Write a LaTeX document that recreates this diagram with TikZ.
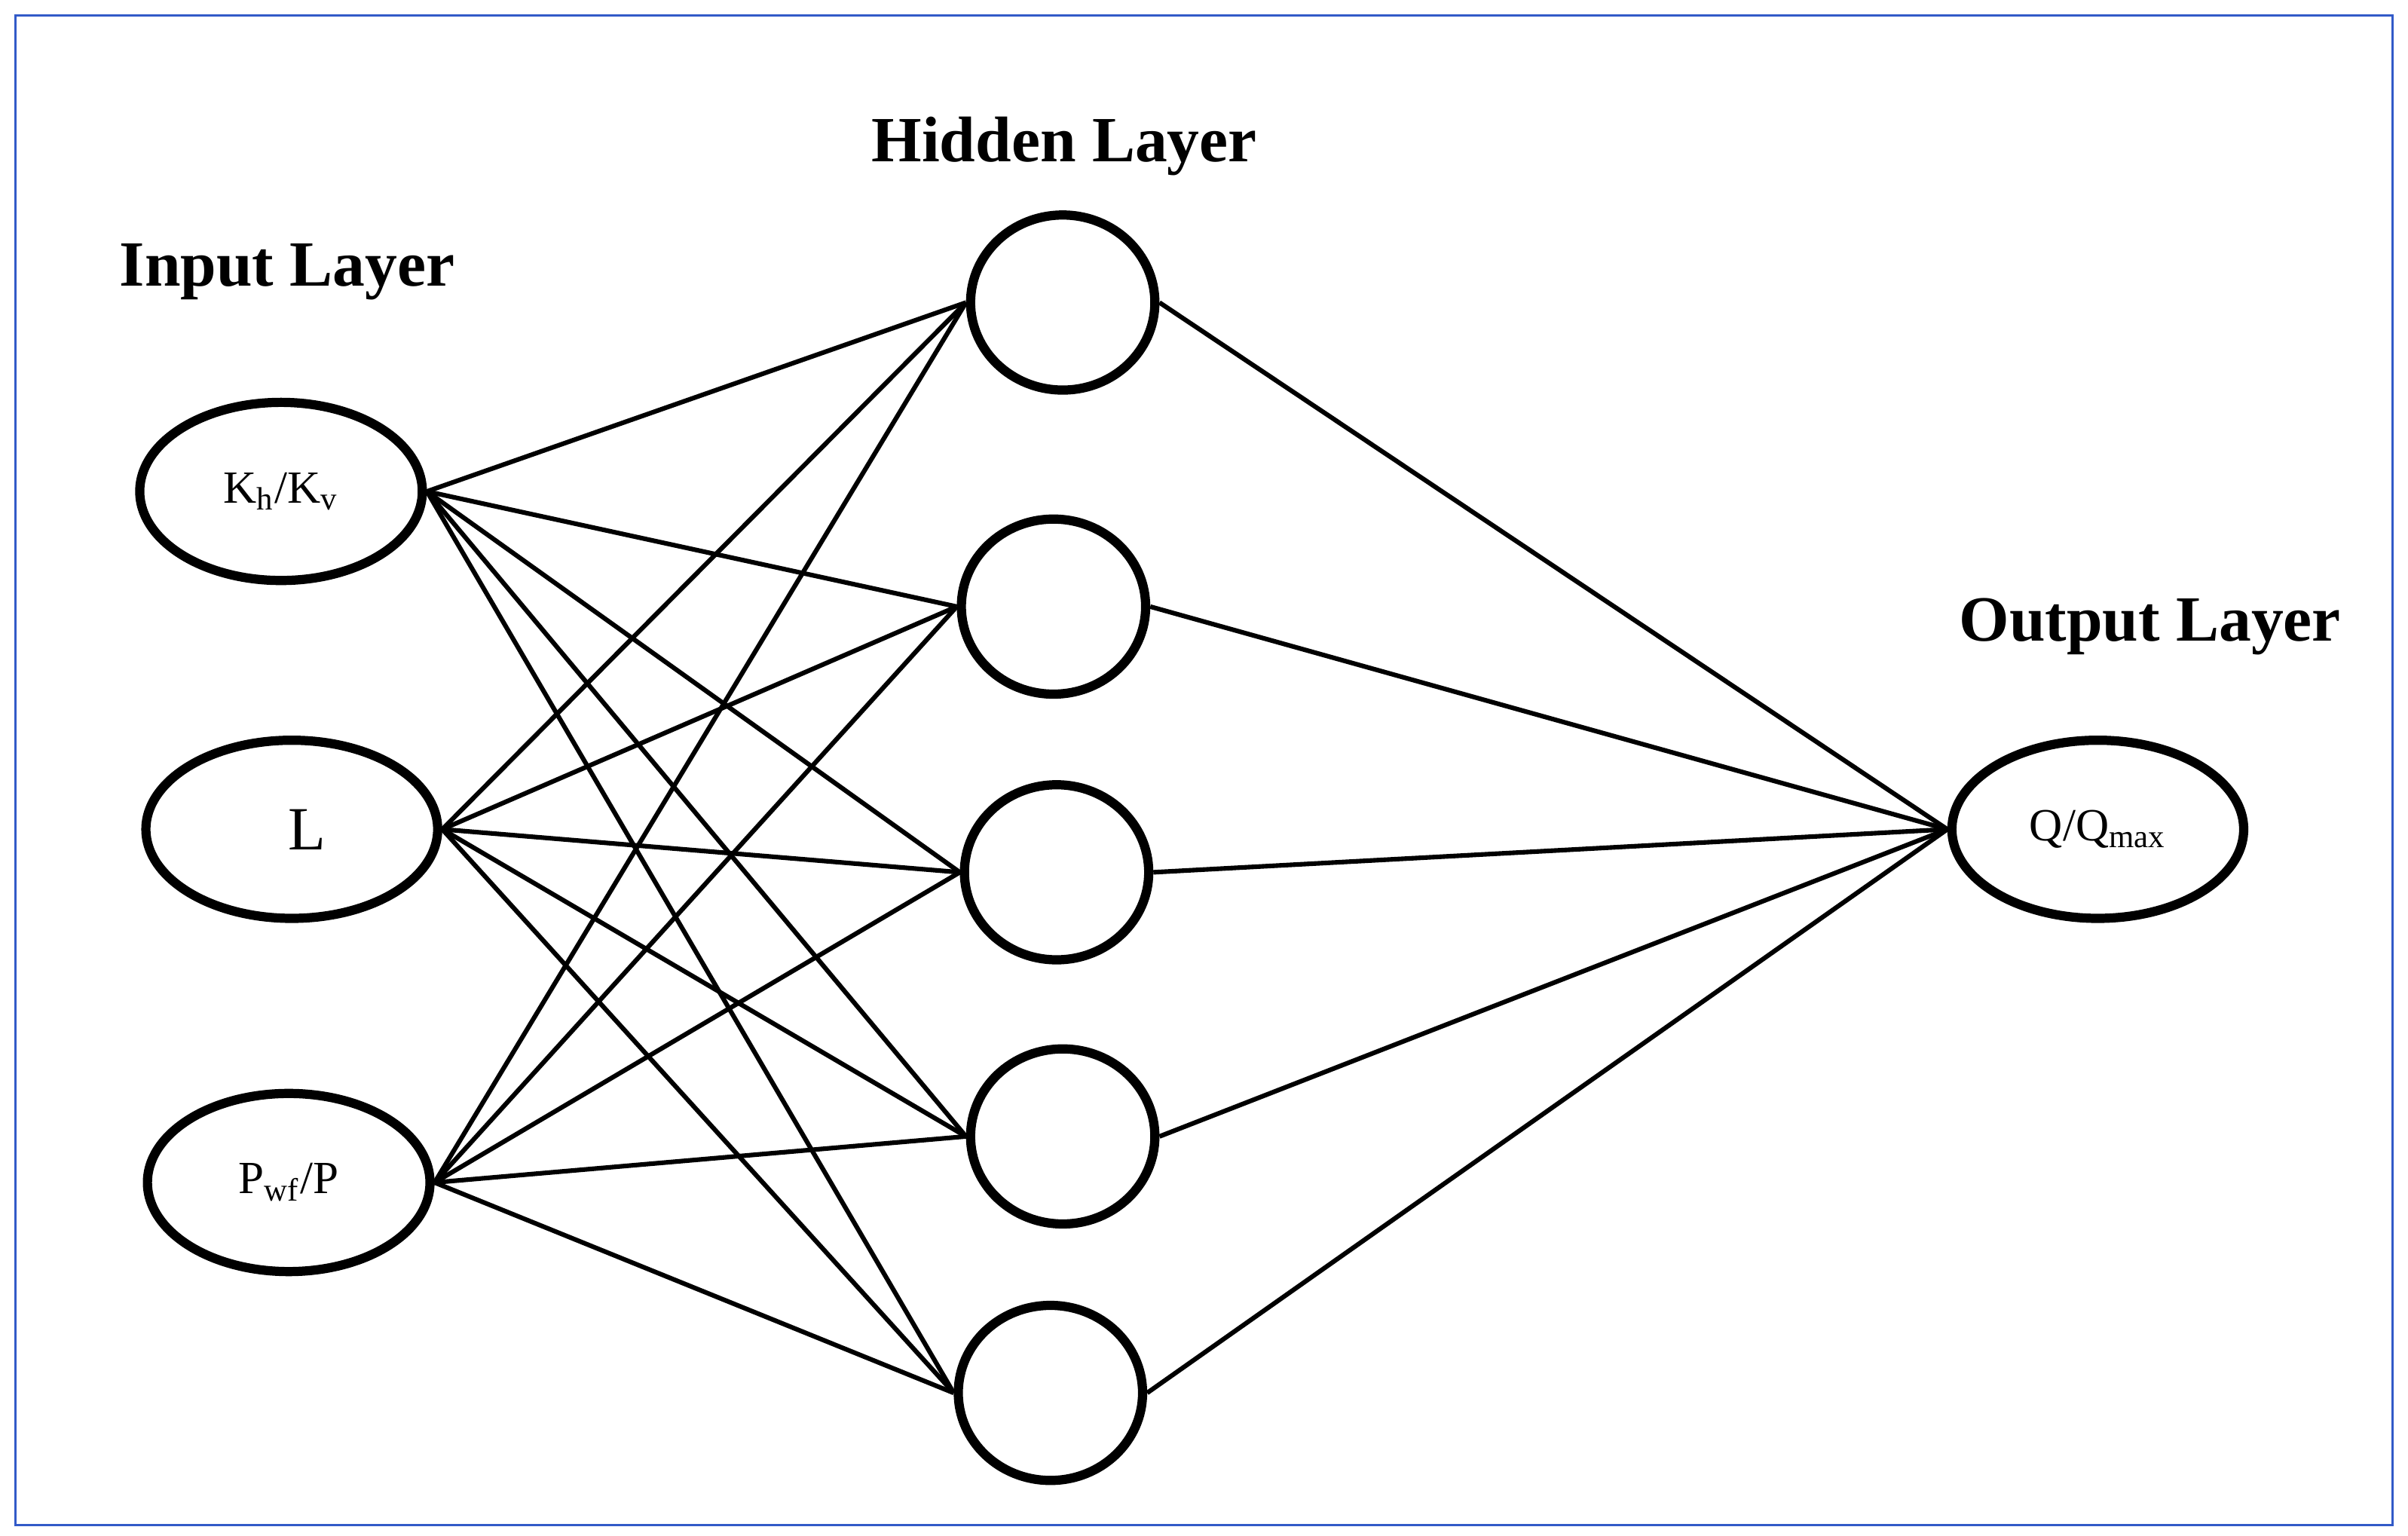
\documentclass[tikz,border=0pt]{standalone}
\usepackage{fontspec}
\setmainfont{Liberation Serif}
\usetikzlibrary{shapes.geometric}
\begin{document}
\begin{tikzpicture}[x=0.5pt,y=-0.5pt,
  inp/.style={ellipse,draw,line width=3pt,inner sep=0pt,minimum width=92pt,minimum height=58pt,font=\fontsize{15}{18}\selectfont},
  hid/.style={ellipse,draw,line width=3pt,inner sep=0pt,minimum width=60pt,minimum height=57pt},
  ttl/.style={font=\fontsize{21}{25}\selectfont\bfseries},
  con/.style={line width=1.5pt}]
\useasboundingbox (0,0) rectangle (1568,1000);
\draw[line width=0.8pt,draw={rgb,255:red,50;green,90;blue,200}] (10,10) rectangle (1558,993);
\node[ttl] (t1) at (187,177) {Input Layer};
\node[ttl] (t2) at (693,95) {Hidden Layer};
\node[ttl] (t3) at (1400,408) {Output Layer};
\node[inp] (i1) at (183,320) {K\textsubscript{h}/K\textsubscript{v}};
\node[inp,minimum width=95pt,font=\fontsize{20}{24}\selectfont] (i2) at (190,540) {\hspace{10pt}L};
\node[inp] (i3) at (188,770) {P\textsubscript{wf}/P};
\node[hid] (h1) at (692,197) {};
\node[hid] (h2) at (686,395) {};
\node[hid] (h3) at (688,568) {};
\node[hid] (h4) at (692,740) {};
\node[hid] (h5) at (684,907) {};
\node[inp,minimum width=95pt] (o) at (1366,540) {Q/Q\textsubscript{max}};
\foreach \i in {i1,i2,i3}{\foreach \h in {h1,h2,h3,h4,h5}{\draw[con] (\i.east) -- (\h.west);}}
\foreach \h in {h1,h2,h3,h4,h5}{\draw[con] (\h.east) -- (o.west);}
\end{tikzpicture}
\end{document}
